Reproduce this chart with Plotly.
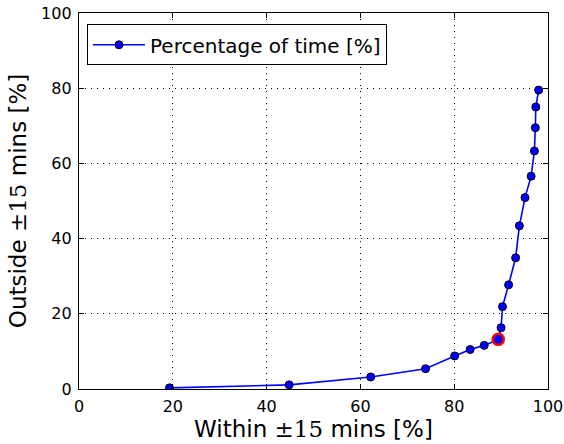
import plotly.graph_objects as go

within = [19.3, 44.8, 62.2, 73.9, 80.1, 83.4, 86.4, 89.4, 90.0, 90.3, 91.6, 93.1,
          93.9, 95.1, 96.4, 97.1, 97.3, 97.4, 98.0]
outside = [0.3, 1.1, 3.2, 5.4, 8.8, 10.5, 11.6, 13.2, 16.3, 21.9, 27.7, 34.9,
           43.4, 50.9, 56.6, 63.3, 69.5, 75.0, 79.5]
highlight_x = [89.4]
highlight_y = [13.2]
tick_vals = [0, 20, 40, 60, 80, 100]

fig = go.Figure()
fig.add_trace(go.Scatter(
    x=within, y=outside, mode="lines+markers", name="Percentage of time [%]",
    line=dict(color="#0000ff", width=1.6),
    marker=dict(color="#0000ff", size=8, line=dict(color="black", width=1)),
))
fig.add_trace(go.Scatter(
    x=highlight_x, y=highlight_y, mode="markers", showlegend=False,
    marker=dict(color="#0000ff", size=11, line=dict(color="#ff0000", width=2.5)),
))

serif = "DejaVu Serif"
axis_common = dict(
    range=[0, 100], tickvals=tick_vals, ticks="inside", ticklen=5, tickcolor="black",
    showline=True, linecolor="black", linewidth=1.3, mirror="ticks",
    showgrid=True, gridcolor="black", griddash="1px,5px", gridwidth=1,
    zeroline=False, automargin=False, ticklabelstandoff=3,
    ticklabeloverflow="allow",
    tickfont=dict(family="DejaVu Sans", size=16, color="black"),
)
fig.update_xaxes(**axis_common,
    title=dict(text=f"Within <span style='font-family:{serif}'>±15</span> mins [%]",
               font=dict(family="DejaVu Sans", size=23, color="black"), standoff=4))
fig.update_yaxes(**axis_common,
    title=dict(text=f"Outside <span style='font-family:{serif}'>±15</span> mins [%]",
               font=dict(family="DejaVu Sans", size=23, color="black"), standoff=8))

fig.update_layout(
    width=564, height=444,
    margin=dict(l=79, r=16, t=13, b=55),
    plot_bgcolor="white", paper_bgcolor="white",
    font=dict(family="DejaVu Sans", color="black"),
    legend=dict(x=0.017, y=0.97, xanchor="left", yanchor="top",
                bordercolor="black", borderwidth=1, bgcolor="white",
                itemwidth=52,
                font=dict(size=20, color="black")),
)
# remove the default 8px page margin so the figure fills the window exactly
fig.write_html("out.html", config={"displayModeBar": False},
               post_script="document.body.style.margin='0';document.body.style.overflow='hidden';")
